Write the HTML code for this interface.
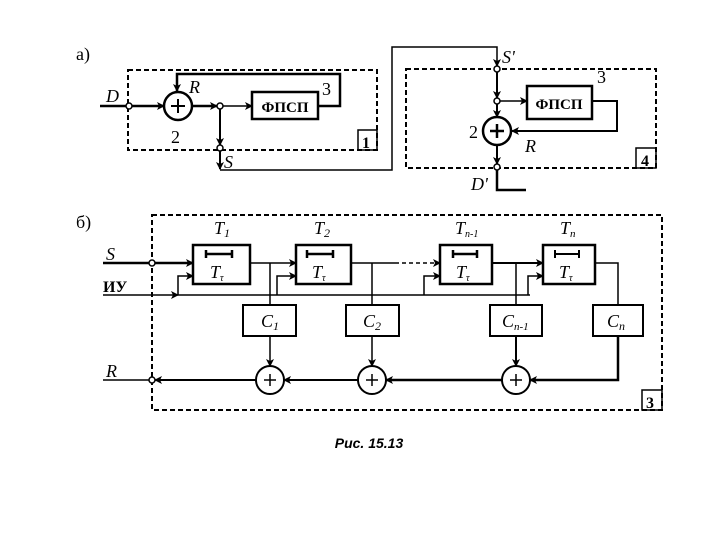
<!DOCTYPE html>
<html><head><meta charset="utf-8"><style>
html,body{margin:0;padding:0;background:#fff}
svg{display:block}
text{font-family:"Liberation Serif",serif;fill:#000}
</style></head><body>
<svg width="720" height="540" viewBox="0 0 720 540" xmlns="http://www.w3.org/2000/svg">
<defs>
<marker id="a" markerWidth="8" markerHeight="8" refX="7" refY="4" orient="auto" markerUnits="userSpaceOnUse"><path d="M0,0 L8,4 L0,8 L2,4z" fill="#000"/></marker>
</defs>
<g stroke="#000" fill="none">
<rect x="128" y="70" width="249" height="80" stroke-width="2" stroke-dasharray="5,3"/>
<rect x="358" y="130" width="19" height="20" stroke-width="1.5"/>
<line x1="100" y1="106" x2="126" y2="106" stroke-width="2.5"/>
<line x1="132" y1="106" x2="164" y2="106" stroke-width="2.5" marker-end="url(#a)"/>
<circle cx="129" cy="106" r="3" fill="#fff" stroke-width="1.5"/>
<circle cx="178" cy="106" r="14" stroke-width="2.5"/>
<line x1="178" y1="99" x2="178" y2="113" stroke-width="2"/><line x1="171" y1="106" x2="185" y2="106" stroke-width="2"/>
<line x1="192" y1="106" x2="217" y2="106" stroke-width="2.5" marker-end="url(#a)"/>
<circle cx="220" cy="106" r="3" fill="#fff" stroke-width="1.5"/>
<line x1="223" y1="106" x2="252" y2="106" stroke-width="1.5" marker-end="url(#a)"/>
<rect x="252" y="92" width="66" height="27" stroke-width="2.5"/>
<polyline points="318,106 340,106 340,74 177,74 177,91" stroke-width="2.5" marker-end="url(#a)"/>
<line x1="220" y1="109" x2="220" y2="145" stroke-width="2" marker-end="url(#a)"/>
<circle cx="220" cy="148" r="3" fill="#fff" stroke-width="1.5"/>
<line x1="220" y1="151" x2="220" y2="169" stroke-width="2" marker-end="url(#a)"/>
<polyline points="220,170 392,170 392,47 497,47 497,66" stroke-width="1.5" marker-end="url(#a)"/>
<rect x="406" y="69" width="250" height="99" stroke-width="2" stroke-dasharray="5,3"/>
<rect x="636" y="148" width="20" height="20" stroke-width="1.5"/>
<circle cx="497" cy="69" r="3" fill="#fff" stroke-width="1.5"/>
<line x1="497" y1="72" x2="497" y2="98" stroke-width="2" marker-end="url(#a)"/>
<circle cx="497" cy="101" r="3" fill="#fff" stroke-width="1.5"/>
<line x1="500" y1="101" x2="527" y2="101" stroke-width="1.5" marker-end="url(#a)"/>
<rect x="527" y="86" width="65" height="33" stroke-width="2.5"/>
<polyline points="592,101 617,101 617,131 512,131" stroke-width="2" marker-end="url(#a)"/>
<line x1="497" y1="104" x2="497" y2="117" stroke-width="2" marker-end="url(#a)"/>
<circle cx="497" cy="131" r="14" stroke-width="2.5"/>
<line x1="497" y1="124" x2="497" y2="138" stroke-width="2.5"/><line x1="490" y1="131" x2="504" y2="131" stroke-width="2.5"/>
<line x1="497" y1="145" x2="497" y2="164" stroke-width="2" marker-end="url(#a)"/>
<circle cx="497" cy="167" r="3" fill="#fff" stroke-width="1.5"/>
<polyline points="497,170 497,190 526,190" stroke-width="2.5"/>
<rect x="152" y="215" width="510" height="195" stroke-width="2" stroke-dasharray="5,3"/>
<rect x="642" y="390" width="20" height="20" stroke-width="1.5"/>
<line x1="103" y1="263" x2="149" y2="263" stroke-width="2.5"/>
<circle cx="152" cy="263" r="3" fill="#fff" stroke-width="1.5"/>
<line x1="155" y1="263" x2="193" y2="263" stroke-width="2.5" marker-end="url(#a)"/>
<line x1="103" y1="295" x2="178" y2="295" stroke-width="1.5" marker-end="url(#a)"/>
<line x1="178" y1="295" x2="530" y2="295" stroke-width="1.5"/>
<polyline points="178,295 178,276 193,276" stroke-width="1.5" marker-end="url(#a)"/>
<polyline points="277,295 277,276 296,276" stroke-width="1.5" marker-end="url(#a)"/>
<polyline points="424,295 424,276 440,276" stroke-width="1.5" marker-end="url(#a)"/>
<polyline points="528,295 528,276 543,276" stroke-width="1.5" marker-end="url(#a)"/>
<rect x="193" y="245" width="57" height="39" stroke-width="2.5"/>
<rect x="296" y="245" width="55" height="39" stroke-width="2.5"/>
<rect x="440" y="245" width="52" height="39" stroke-width="2.5"/>
<rect x="543" y="245" width="52" height="39" stroke-width="2.5"/>
<line x1="250" y1="263" x2="296" y2="263" stroke-width="1.5" marker-end="url(#a)"/>
<line x1="270" y1="263" x2="270" y2="305" stroke-width="1.5"/>
<line x1="351" y1="263" x2="395" y2="263" stroke-width="1.5"/>
<line x1="395" y1="263" x2="440" y2="263" stroke-width="1.5" stroke-dasharray="4,3" marker-end="url(#a)"/>
<line x1="372" y1="263" x2="372" y2="305" stroke-width="1.5"/>
<line x1="492" y1="263" x2="543" y2="263" stroke-width="2" marker-end="url(#a)"/>
<line x1="516" y1="263" x2="516" y2="305" stroke-width="1.5"/>
<polyline points="595,263 618,263 618,305" stroke-width="1.5"/>
<rect x="243" y="305" width="53" height="31" stroke-width="2"/>
<rect x="346" y="305" width="53" height="31" stroke-width="2"/>
<rect x="490" y="305" width="52" height="31" stroke-width="2"/>
<rect x="593" y="305" width="50" height="31" stroke-width="2"/>
<line x1="270" y1="336" x2="270" y2="366" stroke-width="1.5" marker-end="url(#a)"/>
<line x1="372" y1="336" x2="372" y2="366" stroke-width="1.5" marker-end="url(#a)"/>
<line x1="516" y1="336" x2="516" y2="366" stroke-width="2" marker-end="url(#a)"/>
<polyline points="618,336 618,380 530,380" stroke-width="2.5" marker-end="url(#a)"/>
<line x1="502" y1="380" x2="386" y2="380" stroke-width="2.5" marker-end="url(#a)"/>
<line x1="358" y1="380" x2="284" y2="380" stroke-width="2" marker-end="url(#a)"/>
<line x1="256" y1="380" x2="155" y2="380" stroke-width="2" marker-end="url(#a)"/>
<line x1="103" y1="380" x2="149" y2="380" stroke-width="1.5"/>
<circle cx="152" cy="380" r="3" fill="#fff" stroke-width="1.5"/>
<circle cx="270" cy="380" r="14" fill="#fff" stroke-width="2"/>
<circle cx="372" cy="380" r="14" fill="#fff" stroke-width="2"/>
<circle cx="516" cy="380" r="14" fill="#fff" stroke-width="2"/>
<path d="M270,374v12M264,380h12M372,374v12M366,380h12M516,374v12M510,380h12" stroke-width="1.5"/>
<path d="M206,254h26M206,250v8M232,250v8" stroke-width="2.5"/>
<path d="M307,254h26M307,250v8M333,250v8" stroke-width="2.5"/>
<path d="M453,254h24M453,250v8M477,250v8" stroke-width="2.5"/>
<path d="M555,254h24M555,250v8M579,250v8" stroke-width="2"/>
</g>
<g font-size="18">
<text x="76" y="60">а)</text>
<text x="76" y="228">б)</text>
<text x="106" y="102" font-style="italic">D</text>
<text x="189" y="93" font-style="italic">R</text>
<text x="171" y="143">2</text>
<text x="322" y="95">3</text>
<text x="224" y="168" font-style="italic">S</text>
<text x="362" y="148" font-size="16" font-weight="bold">1</text>
<text x="502" y="63" font-style="italic">S'</text>
<text x="597" y="83">3</text>
<text x="469" y="138">2</text>
<text x="525" y="152" font-style="italic">R</text>
<text x="471" y="190" font-style="italic">D'</text>
<text x="641" y="166" font-size="16" font-weight="bold">4</text>
<text x="646" y="408" font-size="16" font-weight="bold">3</text>
<text x="106" y="260" font-style="italic">S</text>
<text x="103" y="292" font-size="16" font-weight="bold">ИУ</text>
<text x="106" y="377" font-style="italic">R</text>
<text x="214" y="234" font-style="italic">T<tspan font-size="12" dy="3">1</tspan></text>
<text x="314" y="234" font-style="italic">T<tspan font-size="12" dy="3">2</tspan></text>
<text x="455" y="234" font-style="italic">T<tspan font-size="10" dy="3">n-1</tspan></text>
<text x="560" y="234" font-style="italic">T<tspan font-size="11" dy="3">n</tspan></text>
<text x="210" y="278" font-style="italic">T<tspan font-size="10" dy="3">τ</tspan></text>
<text x="312" y="278" font-style="italic">T<tspan font-size="10" dy="3">τ</tspan></text>
<text x="456" y="278" font-style="italic">T<tspan font-size="10" dy="3">τ</tspan></text>
<text x="559" y="278" font-style="italic">T<tspan font-size="10" dy="3">τ</tspan></text>
<text x="261" y="327" font-style="italic">C<tspan font-size="12" dy="3">1</tspan></text>
<text x="363" y="327" font-style="italic">C<tspan font-size="12" dy="3">2</tspan></text>
<text x="502" y="327" font-style="italic">C<tspan font-size="11" dy="3">n-1</tspan></text>
<text x="607" y="327" font-style="italic">C<tspan font-size="12" dy="3">n</tspan></text>
</g>
<text x="285" y="112" font-size="15" font-weight="bold" text-anchor="middle">ФПСП</text>
<text x="559" y="109" font-size="15" font-weight="bold" text-anchor="middle">ФПСП</text>
<text x="369" y="448" font-size="14" font-weight="bold" font-style="italic" text-anchor="middle" style="font-family:'Liberation Sans',sans-serif">Рис. 15.13</text>
</svg>
</body></html>
